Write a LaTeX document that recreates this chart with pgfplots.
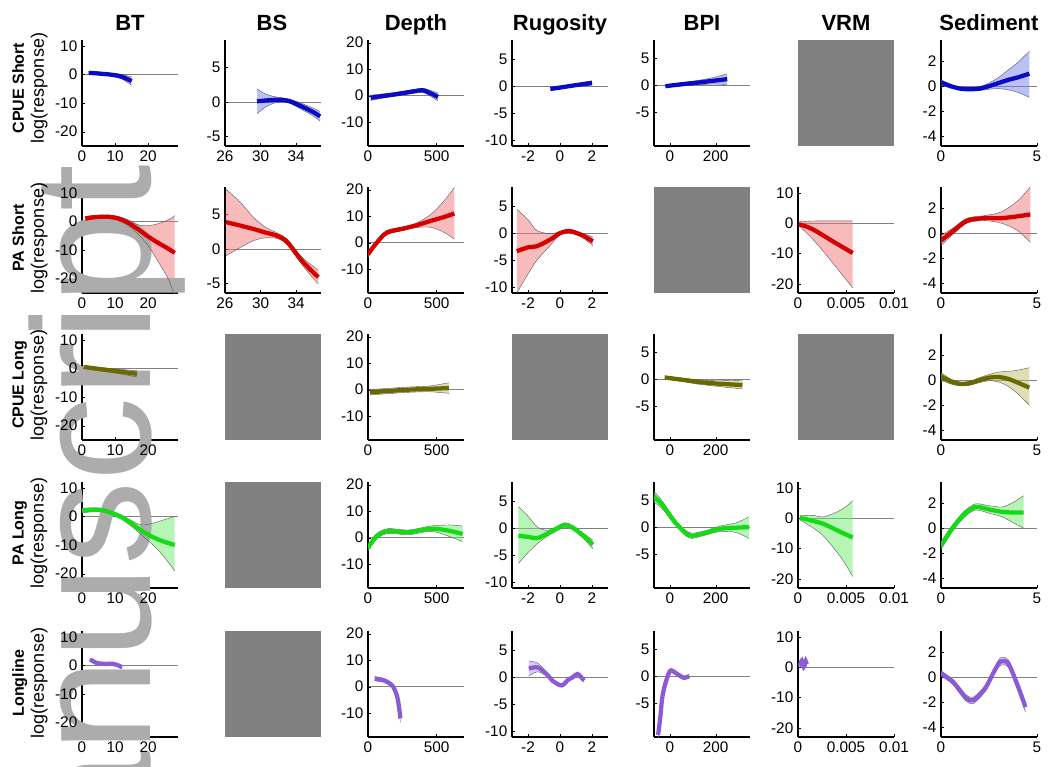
\documentclass[border=0pt]{standalone}
\usepackage{fontspec}
\setmainfont{Liberation Sans}
\usepackage{pgfplots}
\usepackage{pgfplotstable}
\pgfplotsset{compat=1.18}
\usepgfplotslibrary{fillbetween}

\newcommand{\pxu}{0.75pt}
\definecolor{wm}{RGB}{172,172,172}
\definecolor{boxgray}{RGB}{128,128,128}
\definecolor{lnA}{RGB}{10,10,200}   \definecolor{bdA}{RGB}{120,130,235}
\definecolor{lnB}{RGB}{215,0,0}     \definecolor{bdB}{RGB}{240,120,120}
\definecolor{lnC}{RGB}{105,105,0}   \definecolor{bdC}{RGB}{190,190,110}
\definecolor{lnD}{RGB}{20,220,20}   \definecolor{bdD}{RGB}{110,235,110}
\definecolor{lnE}{RGB}{140,90,215}  \definecolor{bdE}{RGB}{185,150,240}

\pgfplotsset{
  base/.style={scale only axis, width=72pt, height=79.5pt, anchor=south west,
    axis x line=bottom, axis y line=left, axis line style={-, line width=0.9pt},
    tick align=inside, major tick length=2pt, tick style={black},
    ticklabel style={font=\fontsize{11.5}{12}\selectfont},
    /pgf/number format/assume math mode=true,
    scaled ticks=false,
    extra y ticks={0}, extra y tick labels={},
    extra y tick style={grid=major, major grid style={gray, line width=0.6pt}}},
  bandedge/.style={gray!70!black, line width=0.3pt, smooth},
  cBT/.style={xmin=0, xmax=29, ymin=-25, ymax=12, xtick={0,10,20}, ytick={-20,-10,0,10}},
  cBS/.style={xmin=26, xmax=36.8, ymin=-6.4, ymax=9, xtick={26,30,34}, ytick={-5,0,5}},
  cDep/.style={xmin=0, xmax=700, ymin=-19, ymax=21, xtick={0,500}, ytick={-10,0,10,20}},
  cRug/.style={xmin=-3, xmax=3, ymin=-11, ymax=8.5, xtick={-2,0,2}, ytick={-10,-5,0,5}},
  cBPI/.style={xmin=-70, xmax=350, ymin=-11.2, ymax=8.3, xtick={0,200}, ytick={-5,0,5}},
  cVRM/.style={xmin=0, xmax=0.01, ymin=-23, ymax=12, xtick={0,0.005,0.01},
    xticklabels={0,0.005,0.01}, ytick={-20,-10,0,10}},
  cSed/.style={xmin=0, xmax=5, ymin=-4.8, ymax=3.7, xtick={0,5}, ytick={-4,-2,0,2}},
}

% one panel: style, left px, bottom px, table, line colour, band colour
\newcommand{\panel}[6]{%
  \begin{axis}[base, #1, at={(#2*\pxu,-#3*\pxu)}]
    \addplot[name path=U, bandedge] table[x=x, y=hi] {#4};
    \addplot[name path=L, bandedge] table[x=x, y=lo] {#4};
    \addplot[fill=#6, fill opacity=0.5, draw=none] fill between[of=U and L];
    \addplot[#5, line width=3.2pt, smooth] table[x=x, y=m] {#4};
  \end{axis}}
% empty (grey) panel
\newcommand{\gbox}[2]{%
  \begin{axis}[scale only axis, width=72pt, height=79.5pt, anchor=south west,
      at={(#1*\pxu,-#2*\pxu)}, xmin=0, xmax=1, ymin=0, ymax=1,
      axis line style={draw=none}, ticks=none,
      axis background/.style={fill=boxgray}]
    \addplot[draw=none] coordinates {(0.5,0.5)};
  \end{axis}}

% ---- row 1: CPUE Short
\pgfplotstableread{
x m lo hi
2 0.5 0.0 1.0
4 0.4 -0.1 0.9
6 0.2 -0.3 0.7
8 0.0 -0.5 0.5
10 -0.3 -0.9 0.3
12 -0.8 -1.6 0.0
14 -1.8 -3.0 -0.6
15 -2.3 -3.8 -0.8
}\tBTa
\pgfplotstableread{
x m lo hi
29.6 0.1 -1.7 1.9
30.5 0.2 -0.8 1.2
31.45 0.3 -0.2 0.8
32.4 0.3 0.0 0.6
33.3 0.1 -0.2 0.4
34.2 -0.4 -0.8 0.0
35.2 -1.0 -1.5 -0.5
36.1 -1.6 -2.2 -1.0
36.7 -2.1 -2.8 -1.4
}\tBSa
\pgfplotstableread{
x m lo hi
20 -0.8 -1.8 0.2
100 -0.2 -1.0 0.6
185 0.4 -0.3 1.1
260 1.0 0.3 1.7
330 1.6 0.9 2.3
400 2.0 1.2 2.8
460 0.8 -0.3 1.9
510 -0.5 -2.0 1.0
}\tDepa
\pgfplotstableread{
x m lo hi
-0.6 -0.5 -0.8 -0.2
0 -0.25 -0.5 0.0
1 0.2 -0.05 0.45
2 0.6 0.2 1.0
}\tRuga
\pgfplotstableread{
x m lo hi
-20 -0.2 -0.4 0.0
50 0.15 -0.15 0.45
120 0.45 0.05 0.85
190 0.8 0.2 1.4
250 1.1 0.1 2.1
}\tBPIa
\pgfplotstableread{
x m lo hi
0 0.3 0.1 0.5
0.5 0.0 -0.15 0.15
1.0 -0.2 -0.3 -0.1
1.5 -0.25 -0.35 -0.15
2.0 -0.2 -0.35 -0.05
2.5 0.0 -0.25 0.25
3.0 0.25 -0.2 0.7
3.5 0.5 -0.3 1.3
4.0 0.7 -0.5 1.9
4.6 1.0 -0.9 2.8
}\tSeda

% ---- row 2: PA Short
\pgfplotstableread{
x m lo hi
1 1.0 0.3 1.7
4 1.5 0.9 2.1
8 1.6 1.0 2.2
11 1.0 0.3 1.7
14 -0.5 -1.5 0.5
17 -2.8 -4.5 -1.2
20 -5.3 -8.5 -1.5
23 -7.5 -14 -0.8
26 -9.5 -20 0.5
28 -11 -26 2.0
}\tBTb
\pgfplotstableread{
x m lo hi
26.1 3.9 -1.0 8.7
27.7 3.4 0.2 6.8
29.2 2.9 1.2 4.6
30.5 2.4 1.6 3.2
31.9 1.9 1.5 2.3
33.0 1.0 0.6 1.4
34.5 -1.5 -2.0 -1.0
35.6 -3.0 -3.8 -2.2
36.5 -4.1 -5.1 -3.1
}\tBSb
\pgfplotstableread{
x m lo hi
0 -4.4 -5.5 -3.3
64 0 -0.8 0.8
138 3.8 3.0 4.6
258 5.3 4.6 6.0
350 6.5 5.7 7.3
457 8.2 5.8 10.6
550 9.6 4.0 15.5
630 11 1.3 20.8
}\tDepb
\pgfplotstableread{
x m lo hi
-2.7 -3.3 -11 4.4
-2.0 -2.6 -7.5 2.5
-1.45 -2.4 -5 0.5
-0.6 -1.15 -2.2 -0.1
0 0 -0.3 0.3
0.6 0.4 0.1 0.7
1.4 -0.4 -0.8 0.0
2.05 -1.5 -2.3 -0.7
}\tRugb
\pgfplotstableread{
x m lo hi
0.0001 -0.3 -0.8 0.5
0.001 -1.2 -3.5 0.7
0.0019 -2.6 -6.5 0.8
0.0036 -5.9 -13 0.8
0.0057 -9.8 -21.3 0.8
}\tVRMb
\pgfplotstableread{
x m lo hi
0 -0.6 -1.0 -0.2
0.66 0.2 -0.05 0.45
1.36 1.0 0.8 1.2
2.25 1.2 1.0 1.4
3.14 1.2 0.8 1.7
4.0 1.35 0.2 2.6
4.65 1.5 -0.75 3.7
}\tSedb

% ---- row 3: CPUE Long
\pgfplotstableread{
x m lo hi
0.5 0.5 0.0 1.0
5 -0.2 -0.8 0.4
10 -0.9 -1.6 -0.2
16.6 -1.9 -3.0 -0.8
}\tBTc
\pgfplotstableread{
x m lo hi
15 -1.0 -2.0 0.0
150 -0.5 -1.5 0.5
300 0.0 -1.0 1.0
450 0.3 -0.8 1.4
590 0.6 -1.4 2.6
}\tDepc
\pgfplotstableread{
x m lo hi
-23 0.3 0.0 0.6
50 -0.1 -0.4 0.2
120 -0.5 -0.9 -0.1
200 -0.8 -1.3 -0.3
317 -1.1 -1.8 -0.2
}\tBPIc
\pgfplotstableread{
x m lo hi
0 0.3 0.0 0.6
0.5 -0.1 -0.3 0.1
1.0 -0.3 -0.45 -0.15
1.5 -0.25 -0.4 -0.1
2.0 0.0 -0.2 0.2
2.5 0.2 -0.05 0.45
3.0 0.25 -0.15 0.65
3.5 0.1 -0.5 0.7
4.0 -0.2 -1.1 0.8
4.6 -0.6 -2.0 1.0
}\tSedc

% ---- row 4: PA Long
\pgfplotstableread{
x m lo hi
0 2.0 1.2 2.8
3 2.3 1.6 3.0
6 2.2 1.6 2.8
9 1.2 0.6 1.8
12 -0.3 -1.0 0.4
15 -2.5 -3.5 -1.5
18 -5 -6.5 -3.0
21 -7 -9.5 -2.5
24 -8.5 -13 -1.5
28 -10 -19 0.0
}\tBTd
\pgfplotstableread{
x m lo hi
0 -3.8 -5 -2.6
65 0.6 -0.4 1.6
147 2.5 1.6 3.4
295 2.0 1.1 2.9
460 3.4 2.4 4.4
591 2.6 0.5 4.8
690 1.4 -1.5 4.4
}\tDepd
\pgfplotstableread{
x m lo hi
-2.6 -1.4 -6.5 4.0
-2.0 -1.6 -4.5 2.2
-1.4 -1.8 -2.8 0.2
-0.8 -1.0 -1.5 -0.4
-0.28 -0.2 -0.6 0.2
0.3 0.6 0.2 1.0
0.8 0.1 -0.3 0.5
1.5 -1.5 -2.0 -1.0
2.05 -3.0 -3.8 -2.2
}\tRugd
\pgfplotstableread{
x m lo hi
-70 5.6 4.6 6.6
-32 4.0 3.3 4.7
26 0.7 0.2 1.2
84 -1.5 -2.0 -1.0
142 -1.2 -1.6 -0.8
220 -0.3 -0.8 0.2
290 -0.1 -1.0 0.8
346 0.0 -2.1 1.9
}\tBPId
\pgfplotstableread{
x m lo hi
0.0002 0.2 -0.5 0.9
0.0015 -0.8 -3 1.0
0.0027 -1.9 -6 0.5
0.0045 -4.6 -13 2.8
0.0057 -6.3 -19.2 5.8
}\tVRMd
\pgfplotstableread{
x m lo hi
0 -1.4 -1.7 -1.1
0.6 0.0 -0.25 0.25
1.2 1.1 0.85 1.35
1.8 1.7 1.45 1.95
2.5 1.5 1.2 1.8
3.2 1.3 0.9 1.7
3.8 1.25 0.4 2.1
4.3 1.25 0.0 2.6
}\tSedd

% ---- row 5: Longline
\pgfplotstableread{
x m lo hi
2.4 2.1 1.6 2.6
4.3 0.9 0.4 1.4
6 0.6 0.1 1.1
7.3 0.5 0.0 1.0
9.2 0.6 0.1 1.1
10.5 0.2 -0.3 0.7
12.1 -0.6 -1.2 0.0
}\tBTe
\pgfplotstableread{
x m lo hi
49 3 2.2 3.8
120 2.3 1.6 3.0
180 0.2 -0.6 1.0
213 -3.8 -4.8 -2.8
229 -8.8 -10.2 -7.4
236 -12 -13.5 -10.5
}\tDepe
\pgfplotstableread{
x m lo hi
-1.95 1.6 0.2 3.0
-1.4 1.8 1.0 2.6
-0.85 0.6 0.2 1.0
-0.4 -0.8 -1.1 -0.5
0.12 -1.5 -1.8 -1.2
0.5 -0.5 -0.8 -0.2
0.8 0.0 -0.3 0.3
1.1 0.6 0.3 0.9
1.5 -0.6 -0.9 -0.3
}\tRuge
\pgfplotstableread{
x m lo hi
-52 -10.8 -12 -9.5
-42 -7.4 -8.6 -6.2
-33 -3.7 -4.7 -2.7
-17 -0.9 -1.5 -0.3
2 1.0 0.6 1.4
35 0.3 0.0 0.6
60 -0.3 -0.6 0.0
84 0.0 -0.3 0.3
}\tBPIe
\pgfplotstableread{
x m lo hi
0.0002 0.5 -0.2 1.2
0.0004 2.2 1.5 2.9
0.0006 0.2 -0.5 0.9
0.0008 2.0 1.3 2.7
0.0009 1.0 0.3 1.7
}\tVRMe
\pgfplotstableread{
x m lo hi
0 0.3 0.1 0.5
0.6 -0.35 -0.55 -0.15
1.0 -1.1 -1.35 -0.85
1.33 -1.7 -1.95 -1.45
1.7 -1.85 -2.1 -1.6
2.3 -0.9 -1.15 -0.65
2.8 0.55 0.3 0.8
3.1 1.25 0.95 1.55
3.5 1.1 0.8 1.4
3.95 -0.5 -0.8 -0.2
4.4 -2.4 -2.8 -2.0
}\tSede

\begin{document}
\begin{tikzpicture}
% watermark behind everything
\node[rotate=90, anchor=base east, inner sep=0pt, text=wm,
  font=\fontsize{126}{130}\selectfont] at (150*\pxu,-164*\pxu) {Manuscript};

% column titles
\foreach \cx/\ttl in {130/BT, 272/BS, 416/Depth, 560/Rugosity, 702/BPI, 846/VRM, 989/Sediment}
  \node[anchor=base, font=\fontsize{16.5}{18}\selectfont\bfseries] at (\cx*\pxu,-31*\pxu) {\ttl};

% row labels
\foreach \cy/\ttl in {88/CPUE Short, 238/PA Short, 385/CPUE Long, 533/PA Long, 683/Longline}
  \node[rotate=90, align=center, inner sep=0pt, font=\fontsize{13.5}{15}\selectfont]
    at (30*\pxu,-\cy*\pxu) {{\fontsize{12}{15}\selectfont\bfseries\ttl}\\log(response)};

% row 1
\panel{cBT}{82}{146}{\tBTa}{lnA}{bdA}
\panel{cBS}{225}{146}{\tBSa}{lnA}{bdA}
\panel{cDep}{368}{146}{\tDepa}{lnA}{bdA}
\panel{cRug}{512}{146}{\tRuga}{lnA}{bdA}
\panel{cBPI}{654}{146}{\tBPIa}{lnA}{bdA}
\gbox{798}{146}
\panel{cSed}{941}{146}{\tSeda}{lnA}{bdA}
% row 2
\panel{cBT}{82}{293}{\tBTb}{lnB}{bdB}
\panel{cBS}{225}{293}{\tBSb}{lnB}{bdB}
\panel{cDep}{368}{293}{\tDepb}{lnB}{bdB}
\panel{cRug}{512}{293}{\tRugb}{lnB}{bdB}
\gbox{654}{293}
\panel{cVRM}{798}{293}{\tVRMb}{lnB}{bdB}
\panel{cSed}{941}{293}{\tSedb}{lnB}{bdB}
% row 3
\panel{cBT}{82}{440}{\tBTc}{lnC}{bdC}
\gbox{225}{440}
\panel{cDep}{368}{440}{\tDepc}{lnC}{bdC}
\gbox{512}{440}
\panel{cBPI}{654}{440}{\tBPIc}{lnC}{bdC}
\gbox{798}{440}
\panel{cSed}{941}{440}{\tSedc}{lnC}{bdC}
% row 4
\panel{cBT}{82}{588}{\tBTd}{lnD}{bdD}
\gbox{225}{588}
\panel{cDep}{368}{588}{\tDepd}{lnD}{bdD}
\panel{cRug}{512}{588}{\tRugd}{lnD}{bdD}
\panel{cBPI}{654}{588}{\tBPId}{lnD}{bdD}
\panel{cVRM}{798}{588}{\tVRMd}{lnD}{bdD}
\panel{cSed}{941}{588}{\tSedd}{lnD}{bdD}
% row 5
\panel{cBT}{82}{737}{\tBTe}{lnE}{bdE}
\gbox{225}{737}
\panel{cDep}{368}{737}{\tDepe}{lnE}{bdE}
\panel{cRug}{512}{737}{\tRuge}{lnE}{bdE}
\panel{cBPI}{654}{737}{\tBPIe}{lnE}{bdE}
\panel{cVRM}{798}{737}{\tVRMe}{lnE}{bdE}
\panel{cSed}{941}{737}{\tSede}{lnE}{bdE}

\pgfresetboundingbox
\path[use as bounding box] (0,0) rectangle (1051*\pxu,-767*\pxu);
\end{tikzpicture}
\end{document}
